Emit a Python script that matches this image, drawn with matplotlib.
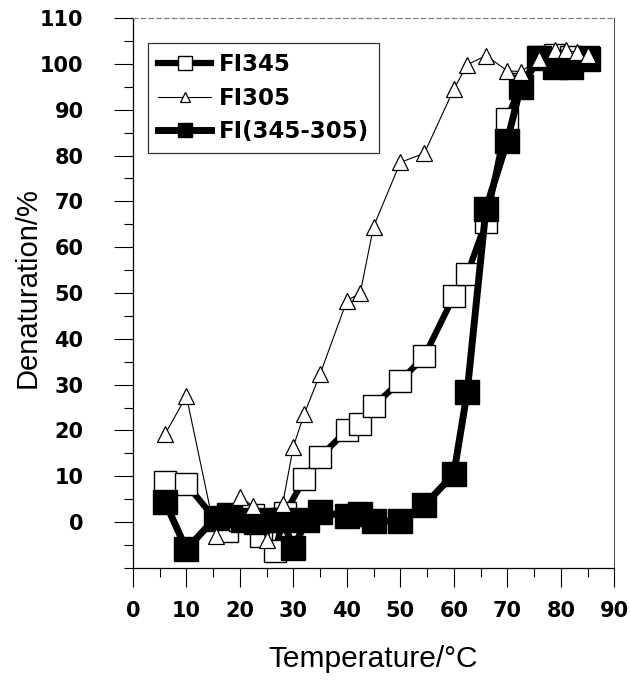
import matplotlib
matplotlib.use("Agg")
import matplotlib.pyplot as plt
from matplotlib.ticker import MultipleLocator

# ---- data ----
T345 = [6, 10, 15.5, 17.5, 20, 22.5, 24, 26.5, 28.5, 32, 35, 40, 42.5, 45, 50, 54.5,
        60, 62.5, 66, 70, 72.5, 76, 79, 82, 85]
D345 = [8.7, 8.3, 0.5, -2, 0.5, 1.5, -3, -6.3, 2, 9.4, 14.3, 20, 21.4, 25.3, 30.8, 36.2,
        49.3, 54.1, 65.5, 88, 95.5, 101.5, 102, 101.5, 101.5]

T305 = [6, 10, 15.5, 20, 22.5, 25, 28, 30, 32, 35, 40, 42.5, 45, 50, 54.5, 60, 62.5,
        66, 70, 72.5, 76, 79, 81, 83, 85]
D305 = [19.2, 27.5, -3, 5.5, 3.5, -4, 4, 16.5, 23.5, 32.3, 48.3, 50, 64.5, 78.5, 80.5,
        94.5, 99.8, 101.8, 98.5, 98.3, 101, 103, 103, 102.5, 102]

TDIFF = [6, 10, 15.5, 18, 20.5, 23, 25.5, 28, 30, 32.5, 35, 40, 42.5, 45, 50, 54.5,
         60, 62.5, 66, 70, 72.5, 76, 79, 82, 85]
DDIFF = [4.4, -5.9, 1, 1.5, 0.5, 0, 0.5, 0.5, -5.7, 0.5, 2.2, 1.3, 1.7, 0.2, 0.2, 3.7,
         10.5, 28.4, 68.3, 83.2, 95, 101.2, 99.3, 99.3, 101]

LABELS = ["FI345", "FI305", "FI(345-305)"]
XTICKS = [0, 10, 20, 30, 40, 50, 60, 70, 80, 90]
YTICKS = [0, 10, 20, 30, 40, 50, 60, 70, 80, 90, 100, 110]

fig = plt.figure(figsize=(6.30, 6.83), dpi=100)
ax = fig.add_axes([0.211, 0.1684, 0.764, 0.8052])

l1, = ax.plot(T345, D345, color="black", lw=4.5, marker="s", ms=16,
              mfc="white", mec="black", mew=1.0, zorder=2, label=LABELS[0])
l3, = ax.plot(TDIFF, DDIFF, color="black", lw=5, marker="s", ms=17,
              mfc="black", mec="black", zorder=3, label=LABELS[2])
l2, = ax.plot(T305, D305, color="black", lw=0.8, marker="^", ms=12,
              mfc="white", mec="black", mew=0.9, zorder=4, label=LABELS[1])

ax.set_xlim(0, 90)
ax.set_ylim(-10, 110)
ax.set_xticks(XTICKS)
ax.set_yticks(YTICKS)
ax.xaxis.set_minor_locator(MultipleLocator(5))
ax.yaxis.set_minor_locator(MultipleLocator(5))

tickfont = dict(family="DejaVu Sans", weight="bold", size=15)
ax.set_xticklabels([str(v) for v in XTICKS], fontdict=tickfont)
ax.set_yticklabels([str(v) for v in YTICKS], fontdict=tickfont)

ax.tick_params(axis="both", which="major", direction="out", length=13.5, width=0.8,
               top=False, right=False)
ax.tick_params(axis="both", which="minor", direction="out", length=6.5, width=0.8,
               top=False, right=False)
ax.tick_params(axis="y", which="major", pad=22)
ax.tick_params(axis="x", which="major", pad=10)

for side in ["left", "bottom"]:
    ax.spines[side].set_linewidth(0.9)
ax.spines["right"].set_linewidth(0.8)
ax.spines["right"].set_color("#555555")
ax.spines["top"].set_linewidth(0.8)
ax.spines["top"].set_linestyle((0, (4, 3)))
ax.spines["top"].set_color("#777777")

ax.set_xlabel("Temperature/°C", fontsize=21.5, family="Liberation Sans")
ax.set_ylabel("Denaturation/%", fontsize=21, family="Liberation Sans")
ax.xaxis.set_label_coords(0.5, -0.14)
ax.yaxis.set_label_coords(-0.19, 0.509)

leg = ax.legend(handles=[l1, l2, l3], loc="upper left",
                bbox_to_anchor=(0.031, 0.9545), borderaxespad=0.0,
                frameon=True, fancybox=False,
                edgecolor="black", markerscale=0.6, handlelength=2.3,
                handletextpad=0.35, borderpad=0.45, labelspacing=0.45,
                prop=dict(family="DejaVu Sans", weight="bold", size=16.5))
leg.get_frame().set_linewidth(0.9)

fig.savefig("out.png", dpi=100)
